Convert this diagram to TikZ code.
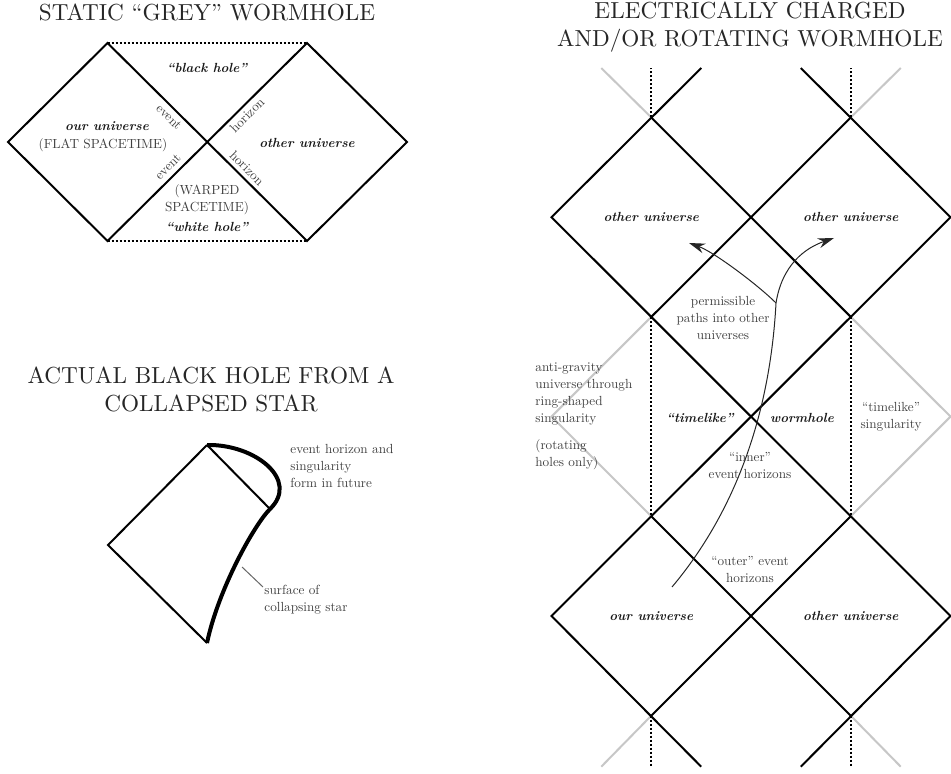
\documentclass[tikz,border=0pt]{standalone}
\usepackage{fontspec}
\setmainfont{lmroman10}[Extension=.otf, UprightFont=*-regular, BoldFont=*-bold, ItalicFont=*-italic, BoldItalicFont=*-bolditalic]
\usetikzlibrary{arrows.meta,calc}
\begin{document}
\begin{tikzpicture}[x=0.5pt,y=-0.5pt,
  bl/.style={line width=1pt},
  gr/.style={line width=1pt, draw=black!22},
  dt/.style={line width=1pt, densely dotted},
  lb/.style={font=\fontsize{6.6}{8.5}\selectfont, text=black!75, align=center, inner sep=0pt},
  bi/.style={font=\fontsize{6.6}{8.5}\selectfont\bfseries\itshape, text=black!90, inner sep=0pt},
  tt/.style={font=\fontsize{11.6}{14}\selectfont, text=black!85, align=center, inner sep=0pt},
  pth/.style={line width=0.5pt, draw=black!85},
  arr/.style={pth, -{Stealth[length=8pt,width=5pt]}},
]
\useasboundingbox (0,0) rectangle (951,774);

% ---------- titles ----------
\node[tt] (t1) at (207,12.5) {STATIC “GREY” WORMHOLE};
\node[tt] (t2) at (211,389) {ACTUAL BLACK HOLE FROM A\\COLLAPSED STAR};
\node[tt] (t3) at (750,27) {ELECTRICALLY CHARGED\\AND/OR ROTATING WORMHOLE};

% ---------- static grey wormhole ----------
\coordinate (L) at (8,142);
\coordinate (T1) at (107.5,43);
\coordinate (C) at (207.5,142);
\coordinate (T2) at (307,43);
\coordinate (R) at (407,142);
\coordinate (B1) at (107.5,241);
\coordinate (B2) at (307,241);
\draw[dt] (T1) -- (T2);
\draw[dt] (B1) -- (B2);
\draw[bl] (T1) -- (L) -- (B1) -- (T2) -- (R) -- (B2) -- cycle;

\node[bi] (bh) at (207,68) {“black hole”};
\node[bi] (ou) at (107,126) {our universe};
\node[lb] (flat) at (103,145) {(FLAT SPACETIME)};
\node[bi] (oth) at (307,143) {other universe};
\node[lb, rotate=-45] (ev1) at (169,117) {event};
\node[lb, rotate=45] (hz1) at (247,115) {horizon};
\node[lb, rotate=45] (ev2) at (168,167) {event};
\node[lb, rotate=-45] (hz2) at (247,168) {horizon};
\node[lb] (warp) at (207,199.5) {(WARPED\\SPACETIME)};
\node[bi] (wh) at (207,227) {“white hole”};

% ---------- collapsed star ----------
\coordinate (st) at (207,445);
\coordinate (sl) at (108,545);
\coordinate (sb) at (207,643);
\coordinate (sm) at (270,509);
\draw[bl] (st) -- (sl) -- (sb);
\draw[bl] (st) -- (sm);
\draw[line width=2pt] (st) .. controls (255,444) and (300,480) .. (sm)
   .. controls (254,525) and (218,590) .. (sb);
\coordinate (lp1) at (242,567);
\coordinate (lp2) at (263,587);
\draw[pth, draw=black!60] (lp1) -- (lp2);
\node[lb, align=left, anchor=west] (ehl) at (290,465.5) {event horizon and\\singularity\\form in future};
\node[lb, align=left, anchor=west] (sfl) at (264,600) {surface of\\collapsing star};

% ---------- charged / rotating wormhole ----------
\foreach \i in {0,...,4} {
  \foreach \j in {0,...,6} {
    \coordinate (p\i\j) at ({551.5+99.75*\i},{117.5+99.7*\j});
  }
}
% extensions
\coordinate (u1b) at ($(p10)+(50,-49.5)$);
\coordinate (u1g) at ($(p10)+(-50,-49.5)$);
\coordinate (u3b) at ($(p30)+(-50,-49.5)$);
\coordinate (u3g) at ($(p30)+(50,-49.5)$);
\coordinate (u1d) at ($(p10)+(0,-49.5)$);
\coordinate (u3d) at ($(p30)+(0,-49.5)$);
\coordinate (d1b) at ($(p16)+(50,51)$);
\coordinate (d1g) at ($(p16)+(-50,51)$);
\coordinate (d3b) at ($(p36)+(-50,51)$);
\coordinate (d3g) at ($(p36)+(50,51)$);
\coordinate (d1d) at ($(p16)+(0,51)$);
\coordinate (d3d) at ($(p36)+(0,51)$);

% grey lines
\draw[gr] (u1g) -- (p10);
\draw[gr] (u3g) -- (p30);
\draw[gr] (p12) -- (p03) -- (p14);
\draw[gr] (p32) -- (p43) -- (p34);
\draw[gr] (d1g) -- (p16);
\draw[gr] (d3g) -- (p36);
% dotted singularities
\draw[dt] (p10) -- (u1d);
\draw[dt] (p30) -- (u3d);
\draw[dt] (p12) -- (p14);
\draw[dt] (p32) -- (p34);
\draw[dt] (p16) -- (d1d);
\draw[dt] (p36) -- (d3d);
% black horizons
\draw[bl] (u1b) -- (p01) -- (p12);
\draw[bl] (p10) -- (p21) -- (p12);
\draw[bl] (u3b) -- (p41) -- (p32);
\draw[bl] (p30) -- (p21) -- (p32);
\draw[bl] (p12) -- (p34);
\draw[bl] (p32) -- (p14);
\draw[bl] (p14) -- (p05) -- (d1b);
\draw[bl] (p14) -- (p25) -- (p16);
\draw[bl] (p34) -- (p45) -- (d3b);
\draw[bl] (p34) -- (p25) -- (p36);

% paths
\coordinate (ps) at (672,587);
\coordinate (pb) at (776,303);
\coordinate (pR) at (834,238);
\coordinate (pL) at (689,243);
\draw[arr] (ps) .. controls (735,512) and (770,415) .. (pb)
   .. controls (782,265) and (805,248) .. (pR);
\draw[arr] (pb) .. controls (758,285) and (714,252) .. (pL);

% labels
\node[bi] (ou1) at (p11) {other universe};
\node[bi] (ou2) at (p31) {other universe};
\node[bi] (ou3) at (p15) {our universe};
\node[bi] (ou4) at (p35) {other universe};
\node[lb] (perm) at (723,318) {permissible\\paths into other\\universes};
\node[lb, align=left, anchor=west] (anti) at (535,394) {anti-gravity\\universe through\\ring-shaped\\singularity};
\node[lb, align=left, anchor=west] (rot) at (535,455) {(rotating\\holes only)};
\node[bi] (tl) at (700,418) {“timelike”};
\node[bi] (wm) at (802,418) {wormhole};
\node[lb] (tls) at (891,416.5) {“timelike”\\singularity};
\node[lb] (inn) at (750,465) {“inner”\\event horizons};
\node[lb] (out) at (750,569) {“outer” event\\horizons};
\end{tikzpicture}
\end{document}
